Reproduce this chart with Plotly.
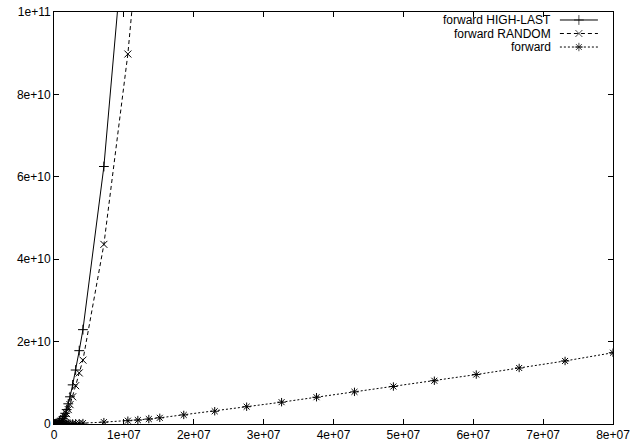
import plotly.graph_objects as go

# Problem sizes (shared x values) and measured costs for each variant
sizes = [1e5, 2e5, 4e5, 6e5, 8e5, 1.0e6, 1.2e6, 1.4e6, 1.6e6, 1.81e6, 2.04e6,
         2.29e6, 2.67e6, 3.1e6, 3.61e6, 4.14e6, 7.14e6, 1.057e7, 1.2e7,
         1.357e7, 1.514e7, 1.857e7, 2.3e7, 2.757e7, 3.257e7, 3.757e7, 4.3e7,
         4.857e7, 5.443e7, 6.043e7, 6.657e7, 7.314e7, 8.0e7]

high_last = [0.01e9, 0.04e9, 0.15e9, 0.35e9, 0.6e9, 0.95e9, 1.35e9, 1.85e9,
             2.6e9, 3.5e9, 4.9e9, 6.6e9, 9.5e9, 13.1e9, 17.8e9, 22.9e9,
             62.5e9, 129e9]

random_order = [0.007e9, 0.03e9, 0.1e9, 0.24e9, 0.42e9, 0.66e9, 0.95e9,
                1.3e9, 1.8e9, 2.5e9, 3.5e9, 4.7e9, 6.6e9, 9.3e9, 12.4e9,
                15.5e9, 43.6e9, 89.8e9, 116e9]

forward = [0.003e9, 0.006e9, 0.012e9, 0.02e9, 0.029e9, 0.038e9, 0.048e9,
           0.06e9, 0.07e9, 0.08e9, 0.095e9, 0.11e9, 0.13e9, 0.16e9, 0.19e9,
           0.22e9, 0.45e9, 0.8e9, 0.95e9, 1.2e9, 1.5e9, 2.2e9, 3.1e9, 4.2e9,
           5.3e9, 6.5e9, 7.8e9, 9.1e9, 10.5e9, 12.0e9, 13.6e9, 15.3e9, 17.3e9]

series_names = ["forward HIGH-LAST", "forward RANDOM", "forward"]

x_tick_vals = [0, 1e7, 2e7, 3e7, 4e7, 5e7, 6e7, 7e7, 8e7]
x_tick_text = ["0", "1e+07", "2e+07", "3e+07", "4e+07", "5e+07", "6e+07",
               "7e+07", "8e+07"]
y_tick_vals = [0, 2e10, 4e10, 6e10, 8e10, 1e11]
y_tick_text = ["0", "2e+10", "4e+10", "6e+10", "8e+10", "1e+11"]

FONT = "Liberation Sans, Arial, sans-serif"
BLACK = "#000000"

styles = [
    dict(dash="solid", symbol="cross-thin-open"),
    dict(dash="4px,3px", symbol="x-thin-open"),
    dict(dash="2px,2px", symbol="asterisk-open"),
]
series_values = [high_last, random_order, forward]

fig = go.Figure()

for name, ys, st in zip(series_names, series_values, styles):
    fig.add_trace(go.Scatter(
        x=sizes[:len(ys)], y=ys, name=name, mode="lines+markers",
        line=dict(color=BLACK, width=1, dash=st["dash"]),
        marker=dict(symbol=st["symbol"], size=7, color=BLACK,
                    line=dict(color=BLACK, width=1)),
        showlegend=False,
    ))

# Key in the gnuplot style: label right-aligned, sample line to its right
key_rows = [0.9806, 0.9478, 0.9150]
key_x0, key_x1 = 0.905, 0.973
key_text_x = 0.890
for name, st, ky in zip(series_names, styles, key_rows):
    fig.add_trace(go.Scatter(
        x=[key_x0, (key_x0 + key_x1) / 2, key_x1], y=[ky, ky, ky],
        xaxis="x2", yaxis="y2", mode="lines+markers",
        line=dict(color=BLACK, width=1, dash=st["dash"]),
        marker=dict(symbol=st["symbol"], size=[0, 7, 0], color=BLACK,
                    line=dict(color=BLACK, width=1)),
        showlegend=False, hoverinfo="skip",
    ))
    fig.add_annotation(
        x=key_text_x, y=ky, xref="paper", yref="paper", text=name,
        showarrow=False, xanchor="right", yanchor="middle", borderpad=0,
        font=dict(family=FONT, size=12, color=BLACK),
    )

axis_common = dict(
    showline=True, linecolor=BLACK, linewidth=1, mirror="ticks",
    ticks="inside", ticklen=5, tickcolor=BLACK, tickwidth=1,
    showgrid=False, zeroline=False, automargin=False,
    tickfont=dict(family=FONT, size=12, color=BLACK),
)

fig.update_layout(
    width=632, height=448,
    margin=dict(l=54, r=19, t=12, b=24),
    paper_bgcolor="white", plot_bgcolor="white",
    xaxis=dict(range=[0, 8e7], tickvals=x_tick_vals, ticktext=x_tick_text,
               **axis_common),
    yaxis=dict(range=[0, 1e11], tickvals=y_tick_vals, ticktext=y_tick_text,
               **axis_common),
    xaxis2=dict(overlaying="x", range=[0, 1], visible=False),
    yaxis2=dict(overlaying="y", range=[0, 1], visible=False),
    showlegend=False,
)

fig.write_html("out.html")
